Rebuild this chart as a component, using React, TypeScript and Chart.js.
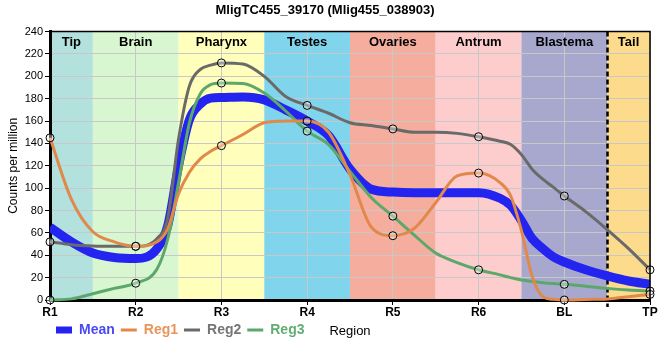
import React, { useEffect, useRef } from 'react';
import { Chart, registerables } from 'chart.js';

Chart.register(...registerables);

const chartTitle = 'MligTC455_39170 (Mlig455_038903)';
const categories = ['R1', 'R2', 'R3', 'R4', 'R5', 'R6', 'BL', 'TP'];
const regionNames = ['Tip', 'Brain', 'Pharynx', 'Testes', 'Ovaries', 'Antrum', 'Blastema', 'Tail'];
const regionStarts = [0, 0.5, 1.5, 2.5, 3.5, 4.5, 5.5, 6.5];
const regionEnds = [0.5, 1.5, 2.5, 3.5, 4.5, 5.5, 6.5, 7];
const regionColors = ['#b3e1de', '#d8f6cf', '#ffffbb', '#80d4eb', '#f5ad9e', '#fdcccc', '#a8a8ce', '#fddb8c'];

// sample positions along the body axis (category index units)
const samplePositions = [0, 0.25, 0.5, 0.75, 1, 1.25, 1.375, 1.5, 1.625, 1.75, 1.875, 2, 2.25, 2.5, 2.75, 3, 3.25, 3.5, 3.75, 4, 4.25, 4.5, 4.75, 5, 5.25, 5.375, 5.5, 5.625, 5.75, 5.875, 6, 6.25, 6.5, 6.75, 7];
const meanValues = [65, 52, 42, 38, 37, 46, 67, 120, 161, 175, 180.5, 181, 181.5, 179, 170, 160, 147, 117, 99, 96.5, 96, 96, 96, 96, 91, 84.5, 71, 55, 46, 38.5, 34, 27, 21.6, 17, 14];
const reg1Values = [145, 90, 61, 52, 48, 52, 64, 95, 114, 126, 133, 138, 148, 158.5, 160, 160, 150, 112, 65, 57.5, 64, 87, 111, 113.5, 105, 93, 62, 21, 3, 0.6, 0, 0.5, 1, 3, 5];
const reg2Values = [52, 49.5, 48.3, 48, 48, 55, 74, 144, 191, 206, 210, 212, 211, 200, 182, 174, 167, 158.5, 156, 153, 150, 150, 149, 146, 142, 139, 130, 117, 108, 100.7, 93, 79, 63, 46, 27];
const reg3Values = [0, 1, 5.6, 10.4, 15, 28, 55, 105, 158, 184, 192.5, 194, 193.5, 185, 169, 151, 139, 115, 91.5, 75, 58, 42, 33.5, 27, 22.5, 20, 17.8, 16.5, 15.5, 14.7, 14, 12.4, 10.4, 8.9, 8];

const seriesNames = ['Mean', 'Reg1', 'Reg2', 'Reg3'];
const seriesColors = ['#2424f0', '#e0894a', '#6a6a6a', '#5ba86a'];
const legendTextColors = ['#4a4af5', '#e8955a', '#767676', '#62ad72'];

const FONT = "'Liberation Sans', Arial, sans-serif";

export default function App() {
  const ref = useRef<HTMLCanvasElement>(null);

  useEffect(() => {
    const canvas = ref.current;
    if (!canvas) return;
    const toPts = (vals: number[]) => samplePositions.map((x, i) => ({ x, y: vals[i] }));
    const markerRadius = (c: any) => (Number.isInteger(c.raw?.x) ? 4 : 0);

    const decor = {
      id: 'decor',
      beforeDraw(chart: any) {
        const { ctx, chartArea, scales } = chart;
        const xs = scales.x;
        ctx.save();
        regionNames.forEach((_, i) => {
          const l = xs.getPixelForValue(regionStarts[i]);
          const r = xs.getPixelForValue(regionEnds[i]);
          ctx.fillStyle = regionColors[i];
          ctx.fillRect(l, chartArea.top, r - l, chartArea.bottom - chartArea.top);
        });
        ctx.restore();
      },
      beforeDatasetsDraw(chart: any) {
        const { ctx, chartArea, scales } = chart;
        const x = Math.round(scales.x.getPixelForValue(6.5)) + 0.5;
        ctx.save();
        ctx.strokeStyle = '#000';
        ctx.lineWidth = 2.5;
        ctx.setLineDash([5, 3]);
        ctx.beginPath();
        ctx.moveTo(x, chartArea.top);
        ctx.lineTo(x, chartArea.bottom + 7);
        ctx.stroke();
        ctx.restore();
      },
      afterDatasetsDraw(chart: any) {
        const { ctx, chartArea, scales } = chart;
        const xs = scales.x;
        ctx.save();
        ctx.font = `bold 13px ${FONT}`;
        ctx.fillStyle = '#000';
        ctx.textAlign = 'center';
        ctx.textBaseline = 'middle';
        regionNames.forEach((n, i) => {
          const l = xs.getPixelForValue(regionStarts[i]);
          const r = xs.getPixelForValue(regionEnds[i]);
          ctx.fillText(n, (l + r) / 2, chartArea.top + 11);
        });
        ctx.strokeStyle = '#000';
        ctx.lineWidth = 1.5;
        ctx.beginPath();
        ctx.moveTo(chartArea.left, chartArea.top);
        ctx.lineTo(chartArea.right, chartArea.top);
        ctx.lineTo(chartArea.right, chartArea.bottom);
        ctx.stroke();
        ctx.restore();
      },
      afterDraw(chart: any) {
        const { ctx, chartArea } = chart;
        ctx.save();
        ctx.font = `13px ${FONT}`;
        ctx.fillStyle = '#000';
        ctx.textAlign = 'center';
        ctx.textBaseline = 'middle';
        ctx.fillText('Region', (chartArea.left + chartArea.right) / 2, 331);
        ctx.restore();
      },
    };

    const allValues = [meanValues, reg1Values, reg2Values, reg3Values];
    const datasets = allValues.map((vals, i) => ({
      label: seriesNames[i],
      data: toPts(vals),
      borderColor: seriesColors[i],
      backgroundColor: seriesColors[i],
      borderWidth: i === 0 ? 9 : 3,
      cubicInterpolationMode: 'monotone' as const,
      pointRadius: i === 0 ? 0 : markerRadius,
      pointHoverRadius: i === 0 ? 0 : markerRadius,
      pointBorderColor: '#000',
      pointBackgroundColor: 'rgba(255,255,255,0.35)',
      pointBorderWidth: 1,
      order: i === 0 ? 10 : 0,
      clip: i === 0 ? undefined : false,
    }));

    const chart = new Chart(canvas, {
      type: 'line',
      data: { datasets: datasets as any },
      plugins: [decor],
      options: {
        animation: false,
        responsive: false,
        maintainAspectRatio: false,
        layout: { padding: { left: 0, right: 10, top: 0, bottom: 13 } },
        scales: {
          x: {
            type: 'linear',
            min: 0,
            max: 7,
            afterFit: (s: any) => { s.height = 17; },
            ticks: {
              stepSize: 1,
              autoSkip: false,
              maxRotation: 0,
              padding: 0,
              color: '#000',
              font: { family: FONT, size: 12, weight: 'bold' },
              callback: (v: any) => categories[Math.round(Number(v))] ?? '',
            },
            grid: { color: '#c8c8c8', lineWidth: 1, tickColor: '#000', tickLength: 5 },
            border: { color: '#000', width: 3 },
          },
          y: {
            min: 0,
            max: 240,
            afterFit: (s: any) => { s.width = 50; },
            ticks: {
              stepSize: 20,
              padding: 2,
              color: '#000',
              font: { family: FONT, size: 11 },
            },
            grid: { color: '#c8c8c8', lineWidth: 1, tickColor: '#000', tickLength: 5 },
            border: { color: '#000', width: 3 },
            title: {
              display: true,
              text: 'Counts per million',
              color: '#000',
              font: { family: FONT, size: 12 },
              padding: { top: 6, bottom: 0 },
            },
          },
        },
        plugins: {
          title: {
            display: true,
            text: chartTitle,
            color: '#000',
            font: { family: FONT, size: 13, weight: 'bold' },
            padding: { top: 3, bottom: 13 },
          },
          legend: {
            display: true,
            position: 'bottom',
            align: 'start',
            fullSize: false,
            labels: {
              usePointStyle: true,
              pointStyleWidth: 16,
              padding: 6,
              font: { family: FONT, size: 14, weight: 'bold' },
              generateLabels: (c: any) =>
                c.data.datasets.map((ds: any, i: number) => ({
                  text: ds.label,
                  fillStyle: ds.borderColor,
                  strokeStyle: ds.borderColor,
                  fontColor: legendTextColors[i],
                  lineWidth: i === 0 ? 7 : 3,
                  pointStyle: 'line',
                  lineCap: 'butt',
                  hidden: false,
                  datasetIndex: i,
                })),
            },
          },
          tooltip: { enabled: false },
        },
      },
    });
    return () => chart.destroy();
  }, []);

  return (
    <div style={{ position: 'fixed', left: 0, top: 0, width: 660, height: 360, background: '#fff' }}>
      <canvas ref={ref} width={660} height={360} style={{ display: 'block' }} />
    </div>
  );
}
